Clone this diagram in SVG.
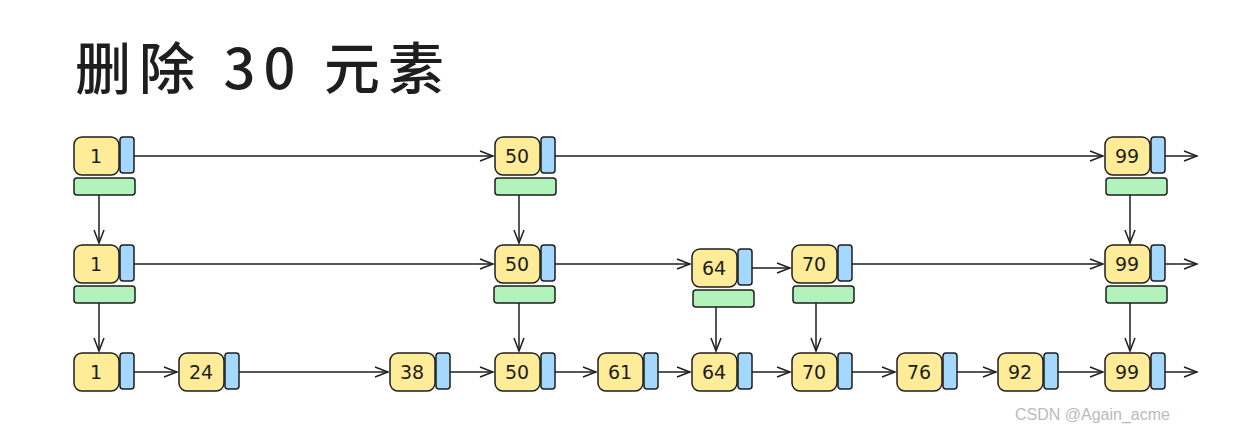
<svg xmlns="http://www.w3.org/2000/svg" width="1234" height="433" viewBox="0 0 1234 433">
<style>
.y{fill:#ffec99;stroke:#1e1e1e;stroke-width:1.5}
.b{fill:#a5d8ff;stroke:#1e1e1e;stroke-width:1.5}
.g{fill:#b2f2bb;stroke:#1e1e1e;stroke-width:1.5}
.t{font-family:"Comic Sans MS","DejaVu Sans",sans-serif;font-size:19px;text-anchor:middle;fill:#1e1e1e}
#conn path{stroke:#1e1e1e;stroke-width:1.5;fill:none;marker-end:url(#a)}
</style>
<defs>
<marker id="a" markerWidth="16" markerHeight="12" refX="14" refY="6" orient="auto" markerUnits="userSpaceOnUse"><path d="M1,1 L14,6 L1,11" fill="none" stroke="#1e1e1e" stroke-width="1.5"/></marker>
<g id="n"><rect class="y" x="0" y="0" width="45" height="38" rx="8"/><rect class="b" x="46" y="0" width="14" height="36" rx="3"/></g>
<rect id="gr" class="g" x="0" y="41" width="61" height="17" rx="3"/>
</defs>
<rect width="1234" height="433" fill="#fff"/>
<text x="75" y="89" font-family="'Noto Sans CJK SC',sans-serif" font-size="56" font-weight="500" letter-spacing="8" fill="#1e1e1e">删除 30 元素</text>
<g id="conn">
<path d="M134,156 H493"/><path d="M555,156 H1103"/><path d="M1165,156 H1197"/>
<path d="M131,264 H493"/><path d="M555,264 H690"/><path d="M752,268 H790"/><path d="M852,264 H1103"/><path d="M1165,264 H1197"/>
<path d="M134,372 H177"/><path d="M239,372 H388"/><path d="M450,372 H493"/><path d="M555,372 H596"/><path d="M658,372 H690"/><path d="M752,372 H790"/><path d="M852,372 H895"/><path d="M957,372 H996"/><path d="M1058,372 H1103"/><path d="M1165,372 H1197"/>
<path d="M99,187 V243"/><path d="M519,187 V243"/><path d="M1130,187 V243"/>
<path d="M99,295 V351"/><path d="M519,295 V351"/><path d="M716,295 V351"/><path d="M816,295 V351"/><path d="M1130,295 V351"/>
</g>
<g id="r1-1"><use href="#gr" x="74" y="137"/><use href="#n" x="74" y="137"/><text class="t" x="96" y="163">1</text></g>
<g id="r1-50"><use href="#gr" x="495" y="137"/><use href="#n" x="495" y="137"/><text class="t" x="517" y="163">50</text></g>
<g id="r1-99"><use href="#gr" x="1106" y="137"/><use href="#n" x="1105" y="137"/><text class="t" x="1127" y="163">99</text></g>
<g id="r2-1"><use href="#gr" x="74" y="245"/><use href="#n" x="74" y="245"/><text class="t" x="96" y="271">1</text></g>
<g id="r2-50"><use href="#gr" x="494" y="245"/><use href="#n" x="495" y="245"/><text class="t" x="517" y="271">50</text></g>
<g id="r2-64"><use href="#gr" x="693" y="249"/><use href="#n" x="692" y="249"/><text class="t" x="714" y="275">64</text></g>
<g id="r2-70"><use href="#gr" x="793" y="245"/><use href="#n" x="792" y="245"/><text class="t" x="814" y="271">70</text></g>
<g id="r2-99"><use href="#gr" x="1106" y="245"/><use href="#n" x="1105" y="245"/><text class="t" x="1127" y="271">99</text></g>
<g id="r3-1"><use href="#n" x="74" y="353"/><text class="t" x="96" y="379">1</text></g>
<g id="r3-24"><use href="#n" x="179" y="353"/><text class="t" x="201" y="379">24</text></g>
<g id="r3-38"><use href="#n" x="390" y="353"/><text class="t" x="412" y="379">38</text></g>
<g id="r3-50"><use href="#n" x="495" y="353"/><text class="t" x="517" y="379">50</text></g>
<g id="r3-61"><use href="#n" x="598" y="353"/><text class="t" x="620" y="379">61</text></g>
<g id="r3-64"><use href="#n" x="692" y="353"/><text class="t" x="714" y="379">64</text></g>
<g id="r3-70"><use href="#n" x="792" y="353"/><text class="t" x="814" y="379">70</text></g>
<g id="r3-76"><use href="#n" x="897" y="353"/><text class="t" x="919" y="379">76</text></g>
<g id="r3-92"><use href="#n" x="998" y="353"/><text class="t" x="1020" y="379">92</text></g>
<g id="r3-99"><use href="#n" x="1105" y="353"/><text class="t" x="1127" y="379">99</text></g>
<text x="1015" y="420" font-family="'Liberation Sans',sans-serif" font-size="16" fill="#bbb">CSDN @Again_acme</text>
</svg>
